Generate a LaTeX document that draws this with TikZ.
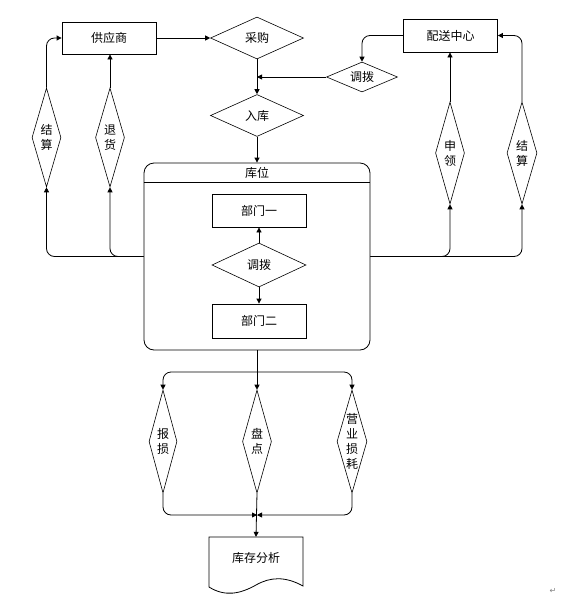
\documentclass[tikz,border=0pt]{standalone}
\usepackage{fontspec}
\newfontfamily\cjk{Noto Sans CJK SC}
\newfontfamily\dejavu{DejaVu Sans}
\usetikzlibrary{shapes.geometric,arrows.meta,calc}
\begin{document}
\begin{tikzpicture}[x=1pt,y=-1pt,
  every node/.style={font=\cjk\fontsize{12}{15}\selectfont, inner sep=0pt},
  box/.style={draw, line width=0.8pt, minimum width=94pt, minimum height=32pt},
  hdia/.style={draw, diamond, aspect=2, line width=0.6pt},
  vdia/.style={draw, diamond, aspect=0.3, line width=0.6pt, minimum width=29pt, minimum height=100pt, align=center},
  arr/.style={line width=0.8pt, -{Triangle[length=5pt,width=5pt]}},
  ln/.style={line width=0.8pt},
  rc/.style={rounded corners=8pt}]
\useasboundingbox (0,0) rectangle (570,603);
% top row
\node[box] (gys) at (109,38) {供应商};
\node[hdia, minimum width=93pt, minimum height=42pt] (cg) at (257,38) {采购};
\node[box, minimum height=33pt] (psc) at (450.5,35.5) {配送中心};
\node[hdia, minimum width=71pt, minimum height=30pt] (tb1) at (362,77) {调拨};
\node[hdia, minimum width=93pt, minimum height=42pt] (rk) at (257,115.5) {入库};
% container
\node[draw, rounded corners=10pt, line width=0.8pt, minimum width=226pt, minimum height=187pt] (kw) at (257,256.5) {};
\node (kwt) at (257,173) {库位};
\draw[ln] ($(kw.north west)+(0,20)$) -- ($(kw.north east)+(0,20)$);
\node[box, minimum height=33pt] (bm1) at (259,210.5) {部门一};
\node[hdia, minimum width=94pt, minimum height=44pt] (tb2) at (259,265) {调拨};
\node[box, minimum height=34pt] (bm2) at (259,321) {部门二};
% side diamonds
\node[vdia, minimum height=99pt] (js1) at (46.5,137.5) {结\\算};
\node[vdia, minimum height=99pt] (th) at (110,137.5) {退\\货};
\node[vdia, minimum height=102pt] (sl) at (450,153) {申\\领};
\node[vdia, minimum height=102pt, minimum width=30pt] (js2) at (522,153) {结\\算};
% bottom diamonds
\node[vdia, minimum width=28pt, minimum height=103pt] (bs) at (163,441.5) {报\\损};
\node[vdia, minimum height=103pt] (pd) at (257,441.5) {盘\\点};
\node[vdia, minimum width=30pt, minimum height=103pt] (yy) at (352,441.5) {营\\业\\损\\耗};
% document
\node[minimum width=94pt, minimum height=42pt] (doc) at (256,558) {库存分析};
\draw[ln] (209,537) -- (303,537) -- (303,586) .. controls (285,576) and (270,577) .. (256,585) .. controls (240,594) and (225,597) .. (209,587) -- cycle;
% connectors
\draw[arr] (gys.east) -- (cg.west);
\draw[arr] (cg.south) -- (rk.north);
\draw[arr, rc] (psc.west) -| (tb1.north);
\draw[arr] (tb1.west) -- (tb1.west -| cg.south);
\draw[arr] (rk.south) -- (kw.north);
\draw[arr, rc] (kw.west) -| (js1.south);
\draw[arr, rc] (kw.west) -| (th.south);
\draw[arr, rc] (js1.north) |- (gys.west);
\draw[arr] (th.north) -- (th.north |- gys.south);
\draw[arr, rc] (kw.east) -| (sl.south);
\draw[arr, rc] (kw.east) -| (js2.south);
\draw[arr] (sl.north) -- (sl.north |- psc.south);
\draw[arr, rc] (js2.north) |- (psc.east);
\draw[arr] (tb2.north) -- (bm1.south);
\draw[arr] (tb2.south) -- (bm2.north);
\coordinate (split) at (257,372);
\draw[ln] (kw.south) -- (split);
\draw[arr, rc] (split) -| (bs.north);
\draw[arr, rc] (split) -| (yy.north);
\draw[arr] (split) -- (pd.north);
\coordinate (join) at (257,515);
\draw[arr, rc] (bs.south) |- (join);
\draw[arr, rc] (yy.south) |- (join);
\draw[arr] (pd.south) -- (doc.north);
\node[font=\dejavu\fontsize{8}{8}\selectfont, text=gray] (pm) at (553,591) {↵};
\end{tikzpicture}
\end{document}
